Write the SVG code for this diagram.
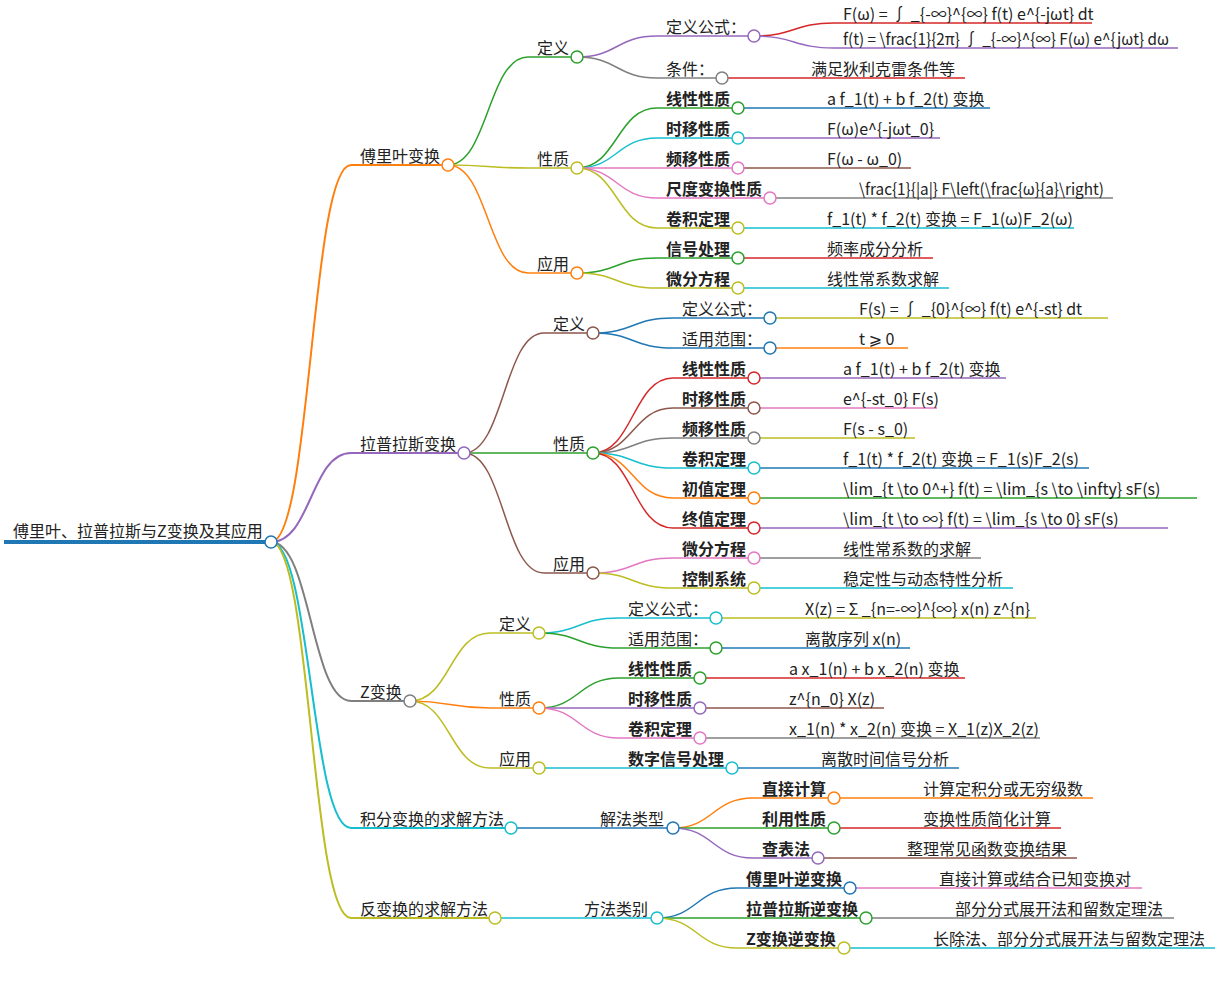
<svg xmlns="http://www.w3.org/2000/svg" width="1220" height="985" viewBox="0 0 1220 985">
<style>
.t{font-family:"Noto Sans CJK SC","Noto Sans","DejaVu Sans",sans-serif;font-size:16px;fill:#222}
.b{font-weight:bold}
.u{fill:none;stroke-width:1.5}
.w2{stroke-width:2}
.w4{stroke-width:4}
.d{fill:#fff;stroke-width:1.5}
.bl{stroke:#1f77b4}.or{stroke:#ff7f0e}.gr{stroke:#2ca02c}.rd{stroke:#d62728}.pu{stroke:#9467bd}
.br{stroke:#8c564b}.pk{stroke:#e377c2}.gy{stroke:#7f7f7f}.yg{stroke:#bcbd22}.cy{stroke:#17becf}
</style>
<rect width="1220" height="985" fill="#fff"/>
<g id="connectors">
<path class="u w2 or" d="M271,542C311,542 311,165 351,165"/>
<path class="u w2 pu" d="M271,542C311,542 311,453 351,453"/>
<path class="u w2 gy" d="M271,542C311,542 311,701 351,701"/>
<path class="u w2 cy" d="M271,542C311,542 311,828 351,828"/>
<path class="u w2 yg" d="M271,542C311,542 311,918 351,918"/>
<path class="u gr" d="M448,165C488,165 488,57 528,57"/>
<path class="u yg" d="M448,165C488,165 488,168 528,168"/>
<path class="u or" d="M448,165C488,165 488,273 528,273"/>
<path class="u pu" d="M577,57C617,57 617,36 657,36"/>
<path class="u gy" d="M577,57C617,57 617,78 657,78"/>
<path class="u rd" d="M754,36C794,36 794,23 834,23"/>
<path class="u pu" d="M754,36C794,36 794,48 834,48"/>
<path class="u rd" d="M722,78H802"/>
<path class="u gr" d="M577,168C617,168 617,108 657,108"/>
<path class="u cy" d="M577,168C617,168 617,138 657,138"/>
<path class="u pk" d="M577,168H657"/>
<path class="u pk" d="M577,168C617,168 617,198 657,198"/>
<path class="u yg" d="M577,168C617,168 617,228 657,228"/>
<path class="u bl" d="M738,108H818"/>
<path class="u pu" d="M738,138H818"/>
<path class="u br" d="M738,168H818"/>
<path class="u gy" d="M770,198H850"/>
<path class="u cy" d="M738,228H818"/>
<path class="u gr" d="M577,273C617,273 617,258 657,258"/>
<path class="u yg" d="M577,273C617,273 617,288 657,288"/>
<path class="u rd" d="M738,258H818"/>
<path class="u cy" d="M738,288H818"/>
<path class="u br" d="M464,453C504,453 504,333 544,333"/>
<path class="u gr" d="M464,453H544"/>
<path class="u br" d="M464,453C504,453 504,573 544,573"/>
<path class="u bl" d="M593,333C633,333 633,318 673,318"/>
<path class="u bl" d="M593,333C633,333 633,348 673,348"/>
<path class="u yg" d="M770,318H850"/>
<path class="u or" d="M770,348H850"/>
<path class="u rd" d="M593,453C633,453 633,378 673,378"/>
<path class="u br" d="M593,453C633,453 633,408 673,408"/>
<path class="u gy" d="M593,453C633,453 633,438 673,438"/>
<path class="u cy" d="M593,453C633,453 633,468 673,468"/>
<path class="u or" d="M593,453C633,453 633,498 673,498"/>
<path class="u rd" d="M593,453C633,453 633,528 673,528"/>
<path class="u pu" d="M754,378H834"/>
<path class="u pk" d="M754,408H834"/>
<path class="u yg" d="M754,438H834"/>
<path class="u bl" d="M754,468H834"/>
<path class="u gr" d="M754,498H834"/>
<path class="u pu" d="M754,528H834"/>
<path class="u pk" d="M593,573C633,573 633,558 673,558"/>
<path class="u yg" d="M593,573C633,573 633,588 673,588"/>
<path class="u gy" d="M754,558H834"/>
<path class="u cy" d="M754,588H834"/>
<path class="u yg" d="M410,701C450,701 450,633 490,633"/>
<path class="u or" d="M410,701C450,701 450,708 490,708"/>
<path class="u yg" d="M410,701C450,701 450,768 490,768"/>
<path class="u cy" d="M539,633C579,633 579,618 619,618"/>
<path class="u gr" d="M539,633C579,633 579,648 619,648"/>
<path class="u yg" d="M716,618H796"/>
<path class="u bl" d="M716,648H796"/>
<path class="u gr" d="M539,708C579,708 579,678 619,678"/>
<path class="u pu" d="M539,708H619"/>
<path class="u pk" d="M539,708C579,708 579,738 619,738"/>
<path class="u rd" d="M700,678H780"/>
<path class="u br" d="M700,708H780"/>
<path class="u gy" d="M700,738H780"/>
<path class="u cy" d="M539,768H619"/>
<path class="u bl" d="M732,768H812"/>
<path class="u bl" d="M511,828H591"/>
<path class="u or" d="M673,828C713,828 713,798 753,798"/>
<path class="u gr" d="M673,828H753"/>
<path class="u pu" d="M673,828C713,828 713,858 753,858"/>
<path class="u or" d="M834,798H914"/>
<path class="u rd" d="M834,828H914"/>
<path class="u br" d="M818,858H898"/>
<path class="u cy" d="M495,918H575"/>
<path class="u bl" d="M657,918C697,918 697,888 737,888"/>
<path class="u gr" d="M657,918H737"/>
<path class="u yg" d="M657,918C697,918 697,948 737,948"/>
<path class="u pk" d="M850,888H930"/>
<path class="u gy" d="M866,918H946"/>
<path class="u cy" d="M844,948H924"/>
</g>
<g id="root"><path class="u w4 bl" d="M4,542H271"/><circle class="d bl" cx="271" cy="542" r="6"/><text class="t" x="13" y="537">傅里叶、拉普拉斯与Z变换及其应用</text></g>
<g id="fourier"><path class="u w2 or" d="M351,165H448"/><circle class="d or" cx="448" cy="165" r="6"/><text class="t" x="360" y="162">傅里叶变换</text></g>
<g id="f-def"><path class="u gr" d="M528,57H577"/><circle class="d gr" cx="577" cy="57" r="6"/><text class="t" x="537" y="54">定义</text></g>
<g id="f-def-formula"><path class="u pu" d="M657,36H754"/><circle class="d pu" cx="754" cy="36" r="6"/><text class="t" x="666" y="33">定义公式：</text></g>
<g id="f-eq1"><path class="u rd" d="M834,23H1092"/><text class="t" x="843" y="20">F(ω) = ∫ _{-∞}^{∞} f(t) e^{-jωt} dt</text></g>
<g id="f-eq2"><path class="u pu" d="M834,48H1178"/><text class="t" x="843" y="45" textLength="326" lengthAdjust="spacingAndGlyphs">f(t) = \frac{1}{2π} ∫ _{-∞}^{∞} F(ω) e^{jωt} dω</text></g>
<g id="f-cond"><path class="u gy" d="M657,78H722"/><circle class="d gy" cx="722" cy="78" r="6"/><text class="t" x="666" y="75">条件：</text></g>
<g id="f-cond-v"><path class="u rd" d="M802,78H965"/><text class="t" x="811" y="75">满足狄利克雷条件等</text></g>
<g id="f-prop"><path class="u yg" d="M528,168H577"/><circle class="d yg" cx="577" cy="168" r="6"/><text class="t" x="537" y="165">性质</text></g>
<g id="f-lin"><path class="u gr" d="M657,108H738"/><circle class="d gr" cx="738" cy="108" r="6"/><text class="t b" x="666" y="105">线性性质</text></g>
<g id="f-lin-v"><path class="u bl" d="M818,108H990"/><text class="t" x="827" y="105">a f_1(t) + b f_2(t) 变换</text></g>
<g id="f-ts"><path class="u cy" d="M657,138H738"/><circle class="d cy" cx="738" cy="138" r="6"/><text class="t b" x="666" y="135">时移性质</text></g>
<g id="f-ts-v"><path class="u pu" d="M818,138H940"/><text class="t" x="827" y="135">F(ω)e^{-jωt_0}</text></g>
<g id="f-fs"><path class="u pk" d="M657,168H738"/><circle class="d pk" cx="738" cy="168" r="6"/><text class="t b" x="666" y="165">频移性质</text></g>
<g id="f-fs-v"><path class="u br" d="M818,168H911"/><text class="t" x="827" y="165">F(ω - ω_0)</text></g>
<g id="f-sc"><path class="u pk" d="M657,198H770"/><circle class="d pk" cx="770" cy="198" r="6"/><text class="t b" x="666" y="195">尺度变换性质</text></g>
<g id="f-sc-v"><path class="u gy" d="M850,198H1113"/><text class="t" x="859" y="195" textLength="245" lengthAdjust="spacingAndGlyphs">\frac{1}{|a|} F\left(\frac{ω}{a}\right)</text></g>
<g id="f-conv"><path class="u yg" d="M657,228H738"/><circle class="d yg" cx="738" cy="228" r="6"/><text class="t b" x="666" y="225">卷积定理</text></g>
<g id="f-conv-v"><path class="u cy" d="M818,228H1074"/><text class="t" x="827" y="225">f_1(t) * f_2(t) 变换 = F_1(ω)F_2(ω)</text></g>
<g id="f-app"><path class="u or" d="M528,273H577"/><circle class="d or" cx="577" cy="273" r="6"/><text class="t" x="537" y="270">应用</text></g>
<g id="f-sig"><path class="u gr" d="M657,258H738"/><circle class="d gr" cx="738" cy="258" r="6"/><text class="t b" x="666" y="255">信号处理</text></g>
<g id="f-sig-v"><path class="u rd" d="M818,258H933"/><text class="t" x="827" y="255">频率成分分析</text></g>
<g id="f-ode"><path class="u yg" d="M657,288H738"/><circle class="d yg" cx="738" cy="288" r="6"/><text class="t b" x="666" y="285">微分方程</text></g>
<g id="f-ode-v"><path class="u cy" d="M818,288H949"/><text class="t" x="827" y="285">线性常系数求解</text></g>
<g id="laplace"><path class="u w2 pu" d="M351,453H464"/><circle class="d pu" cx="464" cy="453" r="6"/><text class="t" x="360" y="450">拉普拉斯变换</text></g>
<g id="l-def"><path class="u br" d="M544,333H593"/><circle class="d br" cx="593" cy="333" r="6"/><text class="t" x="553" y="330">定义</text></g>
<g id="l-def-formula"><path class="u bl" d="M673,318H770"/><circle class="d bl" cx="770" cy="318" r="6"/><text class="t" x="682" y="315">定义公式：</text></g>
<g id="l-eq"><path class="u yg" d="M850,318H1108"/><text class="t" x="859" y="315">F(s) = ∫ _{0}^{∞} f(t) e^{-st} dt</text></g>
<g id="l-range"><path class="u bl" d="M673,348H770"/><circle class="d bl" cx="770" cy="348" r="6"/><text class="t" x="682" y="345">适用范围：</text></g>
<g id="l-range-v"><path class="u or" d="M850,348H908"/><text class="t" x="859" y="345">t ⩾ 0</text></g>
<g id="l-prop"><path class="u gr" d="M544,453H593"/><circle class="d gr" cx="593" cy="453" r="6"/><text class="t" x="553" y="450">性质</text></g>
<g id="l-lin"><path class="u rd" d="M673,378H754"/><circle class="d rd" cx="754" cy="378" r="6"/><text class="t b" x="682" y="375">线性性质</text></g>
<g id="l-lin-v"><path class="u pu" d="M834,378H1006"/><text class="t" x="843" y="375">a f_1(t) + b f_2(t) 变换</text></g>
<g id="l-ts"><path class="u br" d="M673,408H754"/><circle class="d br" cx="754" cy="408" r="6"/><text class="t b" x="682" y="405">时移性质</text></g>
<g id="l-ts-v"><path class="u pk" d="M834,408H937"/><text class="t" x="843" y="405">e^{-st_0} F(s)</text></g>
<g id="l-fs"><path class="u gy" d="M673,438H754"/><circle class="d gy" cx="754" cy="438" r="6"/><text class="t b" x="682" y="435">频移性质</text></g>
<g id="l-fs-v"><path class="u yg" d="M834,438H915"/><text class="t" x="843" y="435">F(s - s_0)</text></g>
<g id="l-conv"><path class="u cy" d="M673,468H754"/><circle class="d cy" cx="754" cy="468" r="6"/><text class="t b" x="682" y="465">卷积定理</text></g>
<g id="l-conv-v"><path class="u bl" d="M834,468H1089"/><text class="t" x="843" y="465">f_1(t) * f_2(t) 变换 = F_1(s)F_2(s)</text></g>
<g id="l-init"><path class="u or" d="M673,498H754"/><circle class="d or" cx="754" cy="498" r="6"/><text class="t b" x="682" y="495">初值定理</text></g>
<g id="l-init-v"><path class="u gr" d="M834,498H1197"/><text class="t" x="843" y="495">\lim_{t \to 0^+} f(t) = \lim_{s \to \infty} sF(s)</text></g>
<g id="l-final"><path class="u rd" d="M673,528H754"/><circle class="d rd" cx="754" cy="528" r="6"/><text class="t b" x="682" y="525">终值定理</text></g>
<g id="l-final-v"><path class="u pu" d="M834,528H1168"/><text class="t" x="843" y="525">\lim_{t \to ∞} f(t) = \lim_{s \to 0} sF(s)</text></g>
<g id="l-app"><path class="u br" d="M544,573H593"/><circle class="d br" cx="593" cy="573" r="6"/><text class="t" x="553" y="570">应用</text></g>
<g id="l-ode"><path class="u pk" d="M673,558H754"/><circle class="d pk" cx="754" cy="558" r="6"/><text class="t b" x="682" y="555">微分方程</text></g>
<g id="l-ode-v"><path class="u gy" d="M834,558H981"/><text class="t" x="843" y="555">线性常系数的求解</text></g>
<g id="l-ctrl"><path class="u yg" d="M673,588H754"/><circle class="d yg" cx="754" cy="588" r="6"/><text class="t b" x="682" y="585">控制系统</text></g>
<g id="l-ctrl-v"><path class="u cy" d="M834,588H1013"/><text class="t" x="843" y="585">稳定性与动态特性分析</text></g>
<g id="ztrans"><path class="u w2 gy" d="M351,701H410"/><circle class="d gy" cx="410" cy="701" r="6"/><text class="t" x="360" y="698">Z变换</text></g>
<g id="z-def"><path class="u yg" d="M490,633H539"/><circle class="d yg" cx="539" cy="633" r="6"/><text class="t" x="499" y="630">定义</text></g>
<g id="z-def-formula"><path class="u cy" d="M619,618H716"/><circle class="d cy" cx="716" cy="618" r="6"/><text class="t" x="628" y="615">定义公式：</text></g>
<g id="z-eq"><path class="u yg" d="M796,618H1036"/><text class="t" x="805" y="615">X(z) = Σ _{n=-∞}^{∞} x(n) z^{n}</text></g>
<g id="z-range"><path class="u gr" d="M619,648H716"/><circle class="d gr" cx="716" cy="648" r="6"/><text class="t" x="628" y="645">适用范围：</text></g>
<g id="z-range-v"><path class="u bl" d="M796,648H910"/><text class="t" x="805" y="645">离散序列 x(n)</text></g>
<g id="z-prop"><path class="u or" d="M490,708H539"/><circle class="d or" cx="539" cy="708" r="6"/><text class="t" x="499" y="705">性质</text></g>
<g id="z-lin"><path class="u gr" d="M619,678H700"/><circle class="d gr" cx="700" cy="678" r="6"/><text class="t b" x="628" y="675">线性性质</text></g>
<g id="z-lin-v"><path class="u rd" d="M780,678H965"/><text class="t" x="789" y="675">a x_1(n) + b x_2(n) 变换</text></g>
<g id="z-ts"><path class="u pu" d="M619,708H700"/><circle class="d pu" cx="700" cy="708" r="6"/><text class="t b" x="628" y="705">时移性质</text></g>
<g id="z-ts-v"><path class="u br" d="M780,708H884"/><text class="t" x="789" y="705">z^{n_0} X(z)</text></g>
<g id="z-conv"><path class="u pk" d="M619,738H700"/><circle class="d pk" cx="700" cy="738" r="6"/><text class="t b" x="628" y="735">卷积定理</text></g>
<g id="z-conv-v"><path class="u gy" d="M780,738H1040"/><text class="t" x="789" y="735">x_1(n) * x_2(n) 变换 = X_1(z)X_2(z)</text></g>
<g id="z-app"><path class="u yg" d="M490,768H539"/><circle class="d yg" cx="539" cy="768" r="6"/><text class="t" x="499" y="765">应用</text></g>
<g id="z-dsp"><path class="u cy" d="M619,768H732"/><circle class="d cy" cx="732" cy="768" r="6"/><text class="t b" x="628" y="765">数字信号处理</text></g>
<g id="z-dsp-v"><path class="u bl" d="M812,768H959"/><text class="t" x="821" y="765">离散时间信号分析</text></g>
<g id="solve"><path class="u w2 cy" d="M351,828H511"/><circle class="d cy" cx="511" cy="828" r="6"/><text class="t" x="360" y="825">积分变换的求解方法</text></g>
<g id="s-type"><path class="u bl" d="M591,828H673"/><circle class="d bl" cx="673" cy="828" r="6"/><text class="t" x="600" y="825">解法类型</text></g>
<g id="s-direct"><path class="u or" d="M753,798H834"/><circle class="d or" cx="834" cy="798" r="6"/><text class="t b" x="762" y="795">直接计算</text></g>
<g id="s-direct-v"><path class="u or" d="M914,798H1093"/><text class="t" x="923" y="795">计算定积分或无穷级数</text></g>
<g id="s-prop"><path class="u gr" d="M753,828H834"/><circle class="d gr" cx="834" cy="828" r="6"/><text class="t b" x="762" y="825">利用性质</text></g>
<g id="s-prop-v"><path class="u rd" d="M914,828H1061"/><text class="t" x="923" y="825">变换性质简化计算</text></g>
<g id="s-table"><path class="u pu" d="M753,858H818"/><circle class="d pu" cx="818" cy="858" r="6"/><text class="t b" x="762" y="855">查表法</text></g>
<g id="s-table-v"><path class="u br" d="M898,858H1077"/><text class="t" x="907" y="855">整理常见函数变换结果</text></g>
<g id="inverse"><path class="u w2 yg" d="M351,918H495"/><circle class="d yg" cx="495" cy="918" r="6"/><text class="t" x="360" y="915">反变换的求解方法</text></g>
<g id="i-type"><path class="u cy" d="M575,918H657"/><circle class="d cy" cx="657" cy="918" r="6"/><text class="t" x="584" y="915">方法类别</text></g>
<g id="i-f"><path class="u bl" d="M737,888H850"/><circle class="d bl" cx="850" cy="888" r="6"/><text class="t b" x="746" y="885">傅里叶逆变换</text></g>
<g id="i-f-v"><path class="u pk" d="M930,888H1142"/><text class="t" x="939" y="885">直接计算或结合已知变换对</text></g>
<g id="i-l"><path class="u gr" d="M737,918H866"/><circle class="d gr" cx="866" cy="918" r="6"/><text class="t b" x="746" y="915">拉普拉斯逆变换</text></g>
<g id="i-l-v"><path class="u gy" d="M946,918H1174"/><text class="t" x="955" y="915">部分分式展开法和留数定理法</text></g>
<g id="i-z"><path class="u yg" d="M737,948H844"/><circle class="d yg" cx="844" cy="948" r="6"/><text class="t b" x="746" y="945">Z变换逆变换</text></g>
<g id="i-z-v"><path class="u cy" d="M924,948H1215"/><text class="t" x="933" y="945">长除法、部分分式展开法与留数定理法</text></g>
</svg>
